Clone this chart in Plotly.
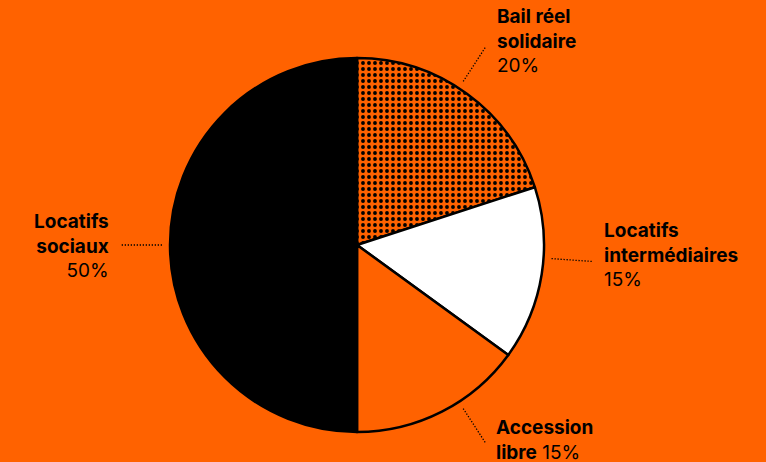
import math
import plotly.graph_objects as go

# ---- data ----
labels = ["Bail réel solidaire", "Locatifs intermédiaires", "Accession libre", "Locatifs sociaux"]
values = [20, 15, 15, 50]
bold_parts = ["Bail réel<br>solidaire", "Locatifs<br>intermédiaires", "Accession<br>libre", "Locatifs<br>sociaux"]
pct_sep = ["<br>", "<br>", " ", "<br>"]

# ---- style / layout ----
W, H = 766, 462
ORANGE = "#FF6200"
slice_colors = [ORANGE, "white", ORANGE, "black"]
patterns = [".", "", "", ""]
CX, CY, R = 357, 245, 187
angle_nudge = [-3, -5, -6, 0]
label_yshift = [5, 7, 4, -1]
label_xshift = [9, 9, 8, -9]
FONT = "Inter"

fig = go.Figure()
fig.add_trace(go.Pie(
    labels=labels, values=values, sort=False, direction="clockwise", rotation=0,
    textinfo="none", hoverinfo="label+percent", showlegend=False,
    marker=dict(colors=slice_colors, line=dict(color="black", width=2.5),
                pattern=dict(shape=patterns, fgcolor="black", bgcolor=ORANGE, fgopacity=1,
                             size=6, solidity=0.32, fillmode="overlay")),
    domain=dict(x=[(CX - R) / W, (CX + R) / W], y=[1 - (CY + R) / H, 1 - (CY - R) / H]),
))

total = sum(values)
cum = 0
shapes, annots = [], []
for i, v in enumerate(values):
    mid = (cum + v / 2) / total * 360 + angle_nudge[i]
    cum += v
    th = math.radians(mid)
    r0, r1 = R + 8, R + 50
    x0, y0 = CX + r0 * math.sin(th), CY - r0 * math.cos(th)
    x1, y1 = CX + r1 * math.sin(th), CY - r1 * math.cos(th)
    shapes.append(dict(type="line", xref="paper", yref="paper",
                       x0=x0 / W, y0=1 - y0 / H, x1=x1 / W, y1=1 - y1 / H,
                       line=dict(color="black", width=1.3, dash="1.3px,1.7px")))
    left = math.sin(th) < -0.1
    text = f"<b>{bold_parts[i]}</b>{pct_sep[i]}{v}%"
    annots.append(dict(xref="paper", yref="paper", x=x1 / W, y=1 - y1 / H,
                       text=text, showarrow=False,
                       xanchor="right" if left else "left", yanchor="middle",
                       align="right" if left else "left",
                       xshift=label_xshift[i], yshift=label_yshift[i],
                       font=dict(family=FONT, size=19, color="black")))

fig.update_layout(
    width=W, height=H, margin=dict(l=0, r=0, t=0, b=0),
    paper_bgcolor=ORANGE, plot_bgcolor=ORANGE,
    shapes=shapes, annotations=annots,
)
fig.write_html("out.html", config={"displayModeBar": False},
               post_script="document.body.style.margin='0';")
